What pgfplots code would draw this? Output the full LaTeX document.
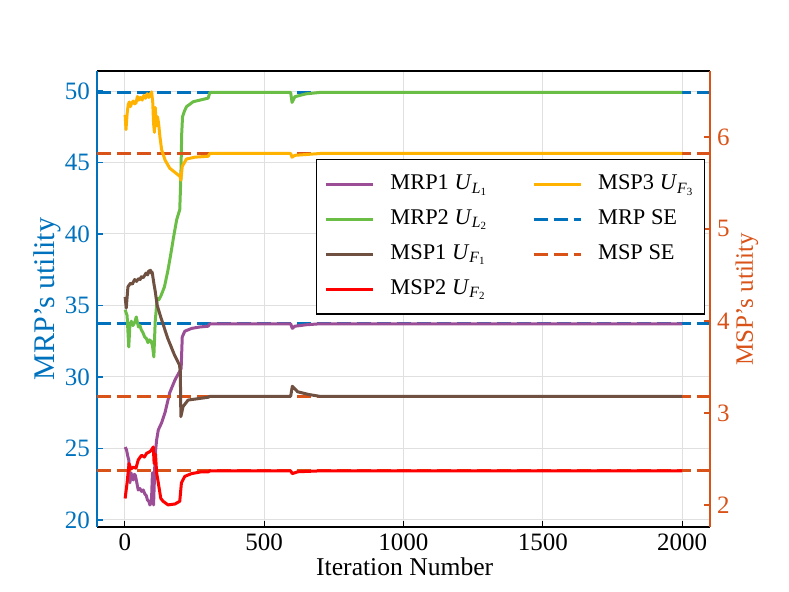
\documentclass[border=0pt]{standalone}
\usepackage{fontspec}
\setmainfont{Liberation Serif}
\usepackage{pgfplots}
\pgfplotsset{compat=1.18}
\definecolor{cpurple}{RGB}{155,78,150}
\definecolor{cgreen}{RGB}{106,190,69}
\definecolor{cbrown}{RGB}{112,80,64}
\definecolor{cred}{RGB}{255,0,0}
\definecolor{cyellow}{RGB}{255,179,0}
\definecolor{cblue}{RGB}{0,114,189}
\definecolor{corange}{RGB}{217,83,25}
\pgfplotsset{
  common/.style={
    width=306.5pt, height=228pt, scale only axis,
    at={(0,0)}, anchor=south west,
    xmin=-100, xmax=2100,
    tick align=inside,
    major tick length=3pt,
    /pgf/number format/assume math mode=true,
    /pgf/number format/1000 sep={},
    ticklabel style={font=\fontsize{12.5}{14}\selectfont},
    legend image code/.code={\draw[#1] (0pt,0pt) -- (23.5pt,0pt);},
  },
  lineplot/.style={line width=1.5pt, line join=round, no markers},
  seplot/.style={line width=1.5pt, dash pattern=on 7pt off 3pt, no markers},
}
\begin{document}
\begin{tikzpicture}
\useasboundingbox (-48.5pt,-32.5pt) rectangle (346pt,263.5pt);
\begin{axis}[common,
  ymin=19.51, ymax=51.4,
  xtick={0,500,1000,1500,2000}, xtick pos=bottom,
  ytick={20,25,30,35,40,45,50}, ytick pos=left,
  separate axis lines,
  x axis line style={draw=black, line width=0.8pt},
  y axis line style={draw=cblue, line width=0.8pt},
  xtick style={black, line width=0.6pt},
  ytick style={cblue, line width=0.6pt},
  yticklabel style={cblue},
  grid=major, major grid style={line width=0.5pt, color=black!12},
  xlabel={Iteration Number}, ylabel={MRP's utility},
  xlabel style={font=\fontsize{12.8}{15}\selectfont, at={(0.502,-0.088)}, anchor=center},
  ylabel style={font=\fontsize{15}{17}\selectfont, color=cblue, at={(-0.0816,0.5)}, anchor=center},
]
\addplot[seplot, cblue] coordinates {(-100,49.9) (2100,49.9)};
\addplot[seplot, cblue] coordinates {(-100,33.72) (2100,33.72)};
\addplot[lineplot, cpurple] coordinates {
(1,25.1)(6,24.9)(10,24.5)(14,24.2)(18,22.6)(22,23.3)(26,23.0)(30,22.8)(34,23.2)(38,23.1)(43,22.6)(48,22.1)(54,22.2)(60,22.0)(66,22.1)(72,21.8)(77,21.7)(81,21.4)(86,21.3)(90,21.05)(94,21.2)(96,21.6)(99,23.3)(101,22.5)(103,21.05)(106,22.8)(108,24.2)(111,25.0)(114,25.6)(120,26.3)(132,26.8)(144,27.5)(161,28.9)(180,29.8)(197,30.4)(202,30.6)(206,32.8)(215,33.2)(240,33.4)(270,33.5)(299,33.55)(305,33.72)(595,33.72)(601,33.4)(610,33.55)(650,33.65)(700,33.72)(2000,33.72)};
\addplot[lineplot, cgreen] coordinates {
(1,34.7)(8,34.3)(14,32.1)(18,33.6)(23,33.9)(29,33.6)(35,33.8)(41,34.2)(45,33.8)(49,33.5)(54,33.6)(59,33.3)(65,33.1)(71,32.8)(77,32.7)(83,32.4)(88,32.6)(94,32.5)(99,32.2)(104,31.4)(109,33.9)(113,34.8)(116,35.5)(122,35.4)(130,35.7)(142,36.3)(154,37.4)(164,38.5)(175,39.8)(186,41.0)(197,41.7)(201,44.0)(204,47.0)(207,48.2)(214,48.6)(221,48.9)(245,49.25)(299,49.5)(305,49.9)(595,49.9)(600,49.2)(610,49.6)(650,49.8)(700,49.9)(2000,49.9)};
\end{axis}
\begin{axis}[common,
  ymin=1.76, ymax=6.717,
  axis x line=none, axis y line*=right,
  ytick={2,3,4,5,6},
  y axis line style={draw=corange, line width=0.8pt, -},
  ytick style={corange, line width=0.6pt},
  yticklabel style={corange},
  ylabel={MSP's utility},
  ylabel style={font=\fontsize{12.5}{15}\selectfont, color=corange, at={(1.06,0.5)}, anchor=center},
  legend columns=2,
  legend cell align=left,
  legend style={at={(0.992,0.807)}, anchor=north east, draw=black, line width=0.75pt,
    font=\fontsize{11.2}{13}\selectfont, inner xsep=4pt, inner ysep=6pt, row sep=4.4pt,
    nodes={inner sep=1pt, text height=8pt, text depth=3pt},
    /tikz/every odd column/.style={column sep=7pt},
    /tikz/column 2/.style={column sep=21pt}},
]
\addlegendimage{lineplot, cpurple}
\addlegendentry{MRP1 \textit{U}\textsubscript{\textit{L}\textsubscript{1}}}
\addlegendimage{lineplot, cyellow}
\addlegendentry{MSP3 \textit{U}\textsubscript{\textit{F}\textsubscript{3}}}
\addlegendimage{lineplot, cgreen}
\addlegendentry{MRP2 \textit{U}\textsubscript{\textit{L}\textsubscript{2}}}
\addlegendimage{seplot, cblue}
\addlegendentry{MRP SE}
\addlegendimage{lineplot, cbrown}
\addlegendentry{MSP1 \textit{U}\textsubscript{\textit{F}\textsubscript{1}}}
\addlegendimage{seplot, corange}
\addlegendentry{MSP SE}
\addlegendimage{lineplot, cred}
\addlegendentry{MSP2 \textit{U}\textsubscript{\textit{F}\textsubscript{2}}}
\addlegendimage{empty legend}
\addlegendentry{}
\addplot[seplot, corange, forget plot] coordinates {(-100,5.82) (2100,5.82)};
\addplot[seplot, corange, forget plot] coordinates {(-100,3.18) (2100,3.18)};
\addplot[seplot, corange, forget plot] coordinates {(-100,2.37) (2100,2.37)};
\addplot[lineplot, cyellow, forget plot] coordinates {
(1,6.24)(4,6.08)(8,6.25)(12,6.35)(16,6.38)(20,6.33)(25,6.37)(30,6.39)(35,6.36)(40,6.37)(45,6.44)(50,6.40)(56,6.43)(62,6.40)(68,6.45)(74,6.42)(80,6.47)(86,6.43)(92,6.47)(96,6.49)(100,6.38)(103,6.15)(106,6.05)(109,6.32)(113,6.12)(117,6.22)(121,6.15)(126,6.0)(132,5.86)(144,5.75)(161,5.66)(186,5.6)(198,5.57)(201,5.53)(206,5.68)(221,5.76)(251,5.78)(299,5.79)(305,5.82)(595,5.82)(600,5.78)(610,5.80)(700,5.82)(2000,5.82)};
\addplot[lineplot, cbrown, forget plot] coordinates {
(1,4.26)(5,4.14)(11,4.37)(20,4.41)(27,4.40)(35,4.45)(42,4.43)(49,4.46)(55,4.45)(59,4.48)(66,4.47)(76,4.52)(82,4.50)(85,4.54)(92,4.55)(95,4.52)(98,4.53)(104,4.41)(109,4.32)(116,4.17)(130,4.03)(154,3.81)(178,3.63)(196,3.52)(199,3.45)(201,2.96)(209,3.07)(227,3.14)(251,3.15)(299,3.17)(305,3.18)(595,3.18)(601,3.29)(620,3.23)(660,3.20)(700,3.18)(2000,3.18)};
\addplot[lineplot, cred, forget plot] coordinates {
(1,2.07)(8,2.24)(15,2.45)(22,2.39)(30,2.41)(40,2.40)(48,2.49)(60,2.54)(70,2.52)(78,2.56)(90,2.58)(96,2.60)(102,2.63)(105,2.45)(110,2.55)(114,2.35)(120,2.24)(129,2.07)(137,2.04)(155,2.00)(180,2.01)(197,2.04)(203,2.24)(215,2.31)(239,2.34)(275,2.36)(300,2.36)(305,2.37)(595,2.37)(601,2.34)(620,2.36)(700,2.37)(2000,2.37)};
\end{axis}
\end{tikzpicture}
\end{document}
